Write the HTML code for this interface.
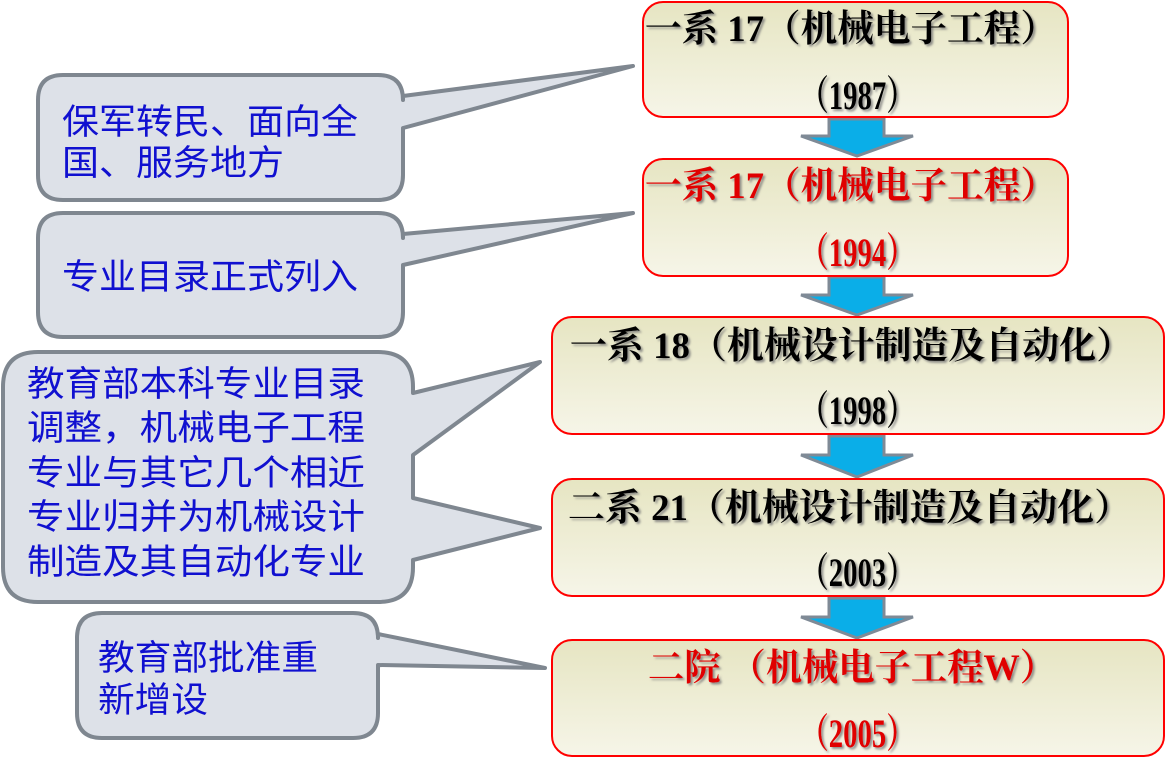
<!DOCTYPE html>
<html><head><meta charset="utf-8"><style>
html,body{margin:0;padding:0;background:#fff;}
svg{display:block;}
.c{font-family:"Liberation Serif","Noto Sans CJK SC",sans-serif;font-size:35px;fill:#1010d0;}
.b{font-family:"Liberation Serif","Noto Serif CJK SC",serif;font-weight:bold;font-size:37px;}
.y{font-size:40px;}
</style></head><body>
<svg width="1165" height="782" viewBox="0 0 1165 782" xmlns="http://www.w3.org/2000/svg">
<defs>
<linearGradient id="g" x1="0" y1="0" x2="0" y2="1">
<stop offset="0" stop-color="#e6e5c2"/><stop offset="1" stop-color="#f6f5e8"/>
</linearGradient>
<filter id="s" x="-5%" y="-20%" width="110%" height="140%">
<feDropShadow dx="2" dy="2" stdDeviation="1" flood-color="#777" flood-opacity="0.8"/>
</filter>
</defs>
<g fill="#dde1e8" stroke="#7f8790" stroke-width="4" stroke-linejoin="round">
<path d="M63,75 H378 Q403,75 403,100 V96 L633,66 L403,128 V175 Q403,200 378,200 H63 Q38,200 38,175 V100 Q38,75 63,75 Z"/>
<path d="M63,213 H378 Q403,213 403,238 V234 L633,213 L403,265 V312 Q403,337 378,337 H63 Q38,337 38,312 V238 Q38,213 63,213 Z"/>
<path d="M38,352 H378 Q413,352 413,387 V393 L540,362 L413,455 V498 L540,528 L413,560 V567 Q413,602 378,602 H38 Q3,602 3,567 V387 Q3,352 38,352 Z"/>
<path d="M102,613 H353 Q378,613 378,638 V634 L545,668 L378,665 V713 Q378,738 353,738 H102 Q77,738 77,713 V638 Q77,613 102,613 Z"/>
</g>
<text class="c" x="62" y="134" textLength="296" lengthAdjust="spacingAndGlyphs">保军转民、面向全</text>
<text class="c" x="62" y="175" textLength="222" lengthAdjust="spacingAndGlyphs">国、服务地方</text>
<text class="c" x="62" y="289" textLength="296" lengthAdjust="spacingAndGlyphs">专业目录正式列入</text>
<text class="c" x="27" y="396" textLength="338" lengthAdjust="spacingAndGlyphs">教育部本科专业目录</text>
<text class="c" x="27" y="440" textLength="338" lengthAdjust="spacingAndGlyphs">调整，机械电子工程</text>
<text class="c" x="27" y="485" textLength="338" lengthAdjust="spacingAndGlyphs">专业与其它几个相近</text>
<text class="c" x="27" y="529" textLength="338" lengthAdjust="spacingAndGlyphs">专业归并为机械设计</text>
<text class="c" x="27" y="574" textLength="338" lengthAdjust="spacingAndGlyphs">制造及其自动化专业</text>
<text class="c" x="98" y="670" textLength="220" lengthAdjust="spacingAndGlyphs">教育部批准重</text>
<text class="c" x="98" y="712" textLength="110" lengthAdjust="spacingAndGlyphs">新增设</text>
<g fill="#0aaee8" stroke="#7f8a96" stroke-width="3" stroke-linejoin="miter">
<path d="M829,119 H884 V136 H913 L857,156 L801,136 H829 Z"/>
<path d="M829,277 H884 V295 H913 L857,315 L801,295 H829 Z"/>
<path d="M829,436 H884 V455 H913 L857,477 L801,455 H829 Z"/>
<path d="M829,598 H884 V617 H913 L857,638 L801,617 H829 Z"/>
</g>
<g fill="url(#g)" stroke="#ff0000" stroke-width="2">
<rect x="643" y="2" width="425" height="115" rx="20"/>
<rect x="643" y="159" width="425" height="117" rx="20"/>
<rect x="552" y="317" width="612" height="117" rx="20"/>
<rect x="552" y="479" width="612" height="117" rx="20"/>
<rect x="552" y="640" width="612" height="116" rx="20"/>
</g>
<g class="b" filter="url(#s)">
<text x="645" y="41" textLength="412" lengthAdjust="spacingAndGlyphs" fill="#000">一系 17（机械电子工程）</text>
<text class="y" x="800" y="109" textLength="115" lengthAdjust="spacingAndGlyphs" fill="#000">（1987）</text>
<text x="645" y="198" textLength="412" lengthAdjust="spacingAndGlyphs" fill="#e00000">一系 17（机械电子工程）</text>
<text class="y" x="800" y="266" textLength="115" lengthAdjust="spacingAndGlyphs" fill="#e00000">（1994）</text>
<text x="570" y="358" textLength="563" lengthAdjust="spacingAndGlyphs" fill="#000">一系 18（机械设计制造及自动化）</text>
<text class="y" x="800" y="424" textLength="115" lengthAdjust="spacingAndGlyphs" fill="#000">（1998）</text>
<text x="568" y="520" textLength="563" lengthAdjust="spacingAndGlyphs" fill="#000">二系 21（机械设计制造及自动化）</text>
<text class="y" x="800" y="586" textLength="115" lengthAdjust="spacingAndGlyphs" fill="#000">（2003）</text>
<text x="648" y="680" textLength="408" lengthAdjust="spacingAndGlyphs" fill="#e00000">二院 （机械电子工程W）</text>
<text class="y" x="800" y="747" textLength="115" lengthAdjust="spacingAndGlyphs" fill="#e00000">（2005）</text>
</g>
</svg>
</body></html>
